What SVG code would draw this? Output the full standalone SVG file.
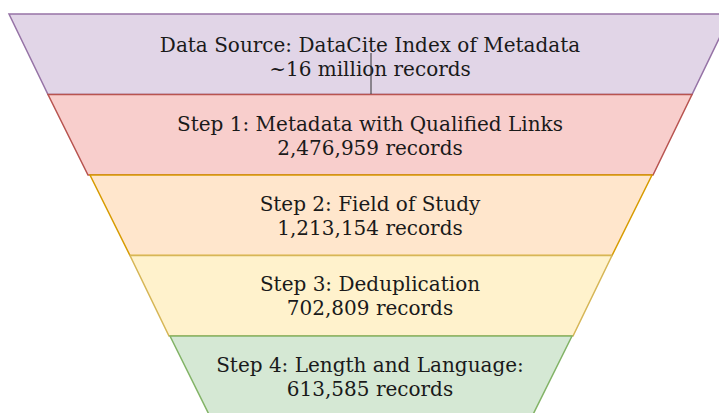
<svg xmlns="http://www.w3.org/2000/svg" width="719" height="413" viewBox="0 0 719 413">
<style>
.t{font-family:"DejaVu Serif",serif;font-size:20px;fill:#1a1a1a;text-anchor:middle}
.s{stroke-width:1.5}
</style>
<rect width="719" height="413" fill="#ffffff"/>
<g id="source">
<polygon class="s" points="9,14 731,14 692,94.5 48,94.5" fill="#E1D5E7" stroke="#9673A6"/>
<text class="t" x="370" y="52">Data Source: DataCite Index of Metadata</text>
<text class="t" x="370" y="76">~16 million records</text>
</g>
<g id="step1">
<polygon class="s" points="48,94.5 692,94.5 653,175 88,175" fill="#F8CECC" stroke="#B85450"/>
<text class="t" x="370" y="131">Step 1: Metadata with Qualified Links</text>
<text class="t" x="370" y="155">2,476,959 records</text>
</g>
<g id="step2">
<polygon class="s" points="90,175 652,175 612,255.5 130,255.5" fill="#FFE6CC" stroke="#D79B00"/>
<text class="t" x="370" y="211">Step 2: Field of Study</text>
<text class="t" x="370" y="235">1,213,154 records</text>
</g>
<g id="step3">
<polygon class="s" points="130,255.5 612,255.5 573,336 169,336" fill="#FFF2CC" stroke="#D6B656"/>
<text class="t" x="370" y="291">Step 3: Deduplication</text>
<text class="t" x="370" y="315">702,809 records</text>
</g>
<g id="step4">
<polygon class="s" points="170,336 572,336 532,416.5 210,416.5" fill="#D5E8D4" stroke="#82B366"/>
<text class="t" x="370" y="372">Step 4: Length and Language:</text>
<text class="t" x="370" y="396">613,585 records</text>
</g>
<g id="connectors">
<line x1="371" y1="53" x2="371" y2="94" stroke="#333333" stroke-width="1"/>
</g>
</svg>
